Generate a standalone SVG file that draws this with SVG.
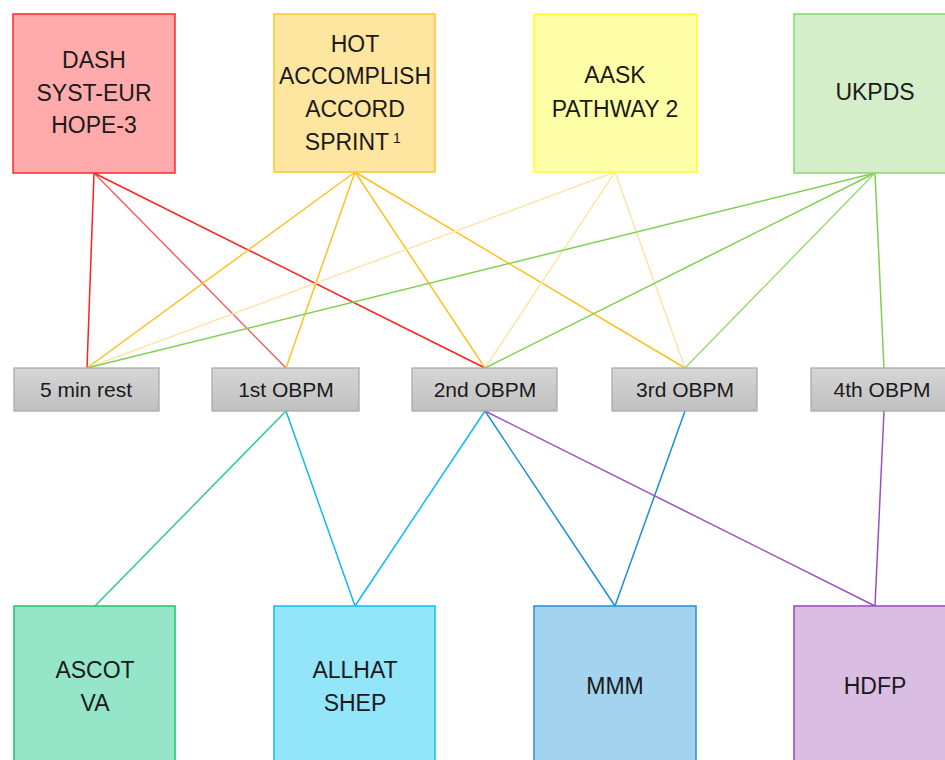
<svg xmlns="http://www.w3.org/2000/svg" width="945" height="760" viewBox="0 0 945 760">
<defs>
<linearGradient id="grey" x1="0" y1="0" x2="0" y2="1">
<stop offset="0" stop-color="#d6d6d6"/>
<stop offset="1" stop-color="#c0c0c0"/>
</linearGradient>
</defs>
<style>
text{font-family:"Liberation Sans",Arial,sans-serif;fill:#1a1a1a;text-anchor:middle}
.big{font-size:23px}
.mid{font-size:21px}
.mbox{fill:url(#grey);stroke:#a6a6a6;stroke-width:1.2}
line{stroke-width:1.5;fill:none}
</style>
<rect width="945" height="760" fill="#ffffff"/>
<g id="connectors">
<line x1="94" y1="173" x2="87" y2="368" stroke="#ff2020"/>
<line x1="94" y1="173" x2="286" y2="368" stroke="#f46060"/>
<line x1="94" y1="173" x2="485" y2="368" stroke="#ff2020"/>
<line x1="355" y1="172" x2="87" y2="368" stroke="#ffc020"/>
<line x1="355" y1="172" x2="286" y2="368" stroke="#ffc020"/>
<line x1="355" y1="172" x2="485" y2="368" stroke="#ffc020"/>
<line x1="355" y1="172" x2="685" y2="368" stroke="#ffc020"/>
<line x1="615" y1="172" x2="87" y2="368" stroke="#ffe4a8"/>
<line x1="615" y1="172" x2="485" y2="368" stroke="#ffe4a8"/>
<line x1="615" y1="172" x2="685" y2="368" stroke="#ffe4a8"/>
<line x1="875" y1="173" x2="87" y2="368" stroke="#80d050"/>
<line x1="875" y1="173" x2="485" y2="368" stroke="#80d050"/>
<line x1="875" y1="173" x2="685" y2="368" stroke="#9adc7c"/>
<line x1="875" y1="173" x2="884" y2="368" stroke="#80d050"/>
<line x1="286" y1="411" x2="95" y2="606" stroke="#30cc88"/>
<line x1="286" y1="411" x2="355" y2="606" stroke="#10b8f0"/>
<line x1="485" y1="411" x2="355" y2="606" stroke="#10b8f0"/>
<line x1="485" y1="411" x2="615" y2="606" stroke="#1a8ed2"/>
<line x1="685" y1="411" x2="615" y2="606" stroke="#1a8ed2"/>
<line x1="485" y1="411" x2="875" y2="606" stroke="#9b50c0"/>
<line x1="884" y1="411" x2="875" y2="606" stroke="#9b50c0"/>
</g>
<g id="dash">
<rect x="13" y="14" width="162" height="159" fill="#ffabab" stroke="#ff2a2a" stroke-width="1.5"/>
<text class="big" x="94" y="68">DASH</text>
<text class="big" x="94" y="101">SYST-EUR</text>
<text class="big" x="94" y="133">HOPE-3</text>
</g>
<g id="hot">
<rect x="274" y="14" width="161" height="158" fill="#ffe6a0" stroke="#ffc62a" stroke-width="1.5"/>
<text class="big" x="355" y="52">HOT</text>
<text class="big" x="355" y="84">ACCOMPLISH</text>
<text class="big" x="355" y="117">ACCORD</text>
<text class="big" x="347" y="150">SPRINT</text>
<text x="397" y="143" style="font-size:14px">1</text>
</g>
<g id="aask">
<rect x="534" y="14" width="163" height="158" fill="#ffffa8" stroke="#ffff20" stroke-width="1.5"/>
<text class="big" x="615" y="83">AASK</text>
<text class="big" x="615" y="117">PATHWAY 2</text>
</g>
<g id="ukpds">
<rect x="794" y="14" width="162" height="159" fill="#d5eeca" stroke="#86d66a" stroke-width="1.5"/>
<text class="big" x="875" y="100">UKPDS</text>
</g>
<g id="rest">
<rect class="mbox" x="14" y="368" width="145" height="43"/>
<text class="mid" x="86" y="397">5 min rest</text>
</g>
<g id="obpm1">
<rect class="mbox" x="212" y="368" width="147" height="43"/>
<text class="mid" x="286" y="397">1st OBPM</text>
</g>
<g id="obpm2">
<rect class="mbox" x="412" y="368" width="145" height="43"/>
<text class="mid" x="485" y="397">2nd OBPM</text>
</g>
<g id="obpm3">
<rect class="mbox" x="612" y="368" width="145" height="43"/>
<text class="mid" x="685" y="397">3rd OBPM</text>
</g>
<g id="obpm4">
<rect class="mbox" x="811" y="368" width="146" height="43"/>
<text class="mid" x="882" y="397">4th OBPM</text>
</g>
<g id="ascot">
<rect x="14" y="606" width="161" height="162" fill="#95e6c8" stroke="#1cc46c" stroke-width="1.5"/>
<text class="big" x="95" y="678">ASCOT</text>
<text class="big" x="95" y="711">VA</text>
</g>
<g id="allhat">
<rect x="274" y="606" width="161" height="162" fill="#93e6fa" stroke="#10bdf2" stroke-width="1.5"/>
<text class="big" x="355" y="678">ALLHAT</text>
<text class="big" x="355" y="711">SHEP</text>
</g>
<g id="mmm">
<rect x="534" y="606" width="162" height="162" fill="#a3d3ee" stroke="#2090d4" stroke-width="1.5"/>
<text class="big" x="615" y="694">MMM</text>
</g>
<g id="hdfp">
<rect x="794" y="606" width="162" height="162" fill="#dabde3" stroke="#9648be" stroke-width="1.5"/>
<text class="big" x="875" y="694">HDFP</text>
</g>
</svg>
